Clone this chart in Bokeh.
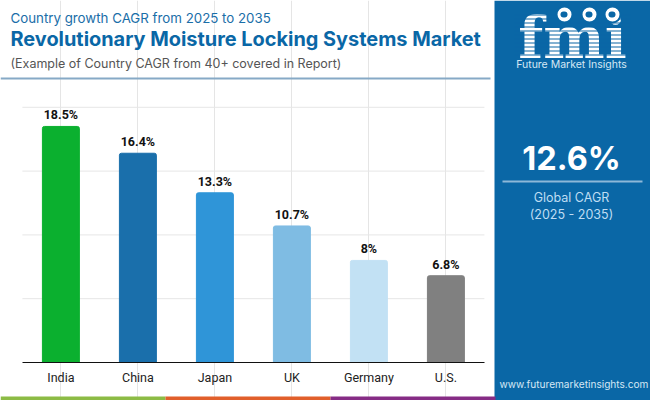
from bokeh.plotting import figure
from bokeh.models import ColumnDataSource, LabelSet, Label, BoxAnnotation, Range1d, FixedTicker, LinearAxis
from bokeh.core.properties import value
from bokeh.embed import file_html
from bokeh.resources import INLINE

countries = ["India", "China", "Japan", "UK", "Germany", "U.S."]
cagr = [18.5, 16.4, 13.3, 10.7, 8.0, 6.8]
value_labels = ["18.5%", "16.4%", "13.3%", "10.7%", "8%", "6.8%"]
bar_colors = ["#0BB02F", "#1A6FAB", "#2F95D8", "#7FBCE3", "#C2E1F4", "#808080"]
y_ticks = [5, 10, 15, 20]

W, H = 650, 400
X0, DX = 60.4, 77.0      # picture x of first category, pixels per category
Y0, DY = 362.0, 12.76    # picture y of zero, pixels per percent
PANEL = "#0A67A6"

positions = list(range(len(countries)))
src = ColumnDataSource(dict(x=positions, v=cagr, l=value_labels, col=bar_colors))
p = figure(x_range=Range1d(-X0 / DX, (W - X0) / DX), y_range=Range1d(-(H - Y0) / DY, Y0 / DY),
           width=W, height=H, output_backend="svg", toolbar_location=None,
           x_axis_location=None,
           min_border=0, min_border_left=0, min_border_right=0, min_border_top=0, min_border_bottom=0)
p.outline_line_color = None
p.background_fill_color = "white"
p.border_fill_color = "white"
p.yaxis.visible = False
p.ygrid.visible = False
p.segment(x0=-0.5, x1=5.5, y0=y_ticks, y1=y_ticks, line_color="#E6E6E6", line_width=1)

p.vbar(x="x", top="v", bottom=0, width=0.48, color="col", source=src, border_radius=(2, 2, 0, 0))
p.add_layout(LabelSet(x="x", y="v", text="l", source=src, text_align="center", text_baseline="bottom",
                      y_offset=4, text_font=value("Roboto"), text_font_style="bold", text_font_size="12.5px",
                      text_color="#111111"))

ax = LinearAxis(fixed_location=0, bounds=(-0.5, 5.5), ticker=FixedTicker(ticks=positions),
                major_label_overrides={i: c for i, c in zip(positions, countries)})
ax.axis_line_color = "#111111"
ax.axis_line_width = 1.2
ax.major_tick_line_color = None
ax.minor_tick_line_color = None
ax.major_label_text_font = "Roboto"
ax.major_label_text_font_size = "12.5px"
ax.major_label_text_color = "#222222"
ax.major_label_standoff = 1
p.add_layout(ax, "below")


def box(x0, y0, x1, y1, color, radius=0, alpha=1.0):
    p.add_layout(BoxAnnotation(left=x0, right=x1, top=H - y0, bottom=H - y1,
                               left_units="screen", right_units="screen", top_units="screen", bottom_units="screen",
                               fill_color=color, fill_alpha=alpha, line_color=None, border_radius=radius, level="overlay"))


def text(x, y, s, size, color, font="Open Sans", style="normal", align="left"):
    p.add_layout(Label(x=x, y=H - y, x_units="screen", y_units="screen", text=s,
                       text_font_size=f"{size}px", text_color=color, text_font=font, text_font_style=style,
                       text_align=align, text_baseline="middle", level="overlay"))


# right panel
box(494, 0, 650, 400, PANEL)

# header
text(10, 17, "Country growth CAGR from 2025 to 2035", 13.3, "#1A6EA8", "Inter")
text(10, 38, "Revolutionary Moisture Locking Systems Market", 19.9, "#0A67A6", "Inter", "bold")
text(10, 63, "(Example of Country CAGR from 40+ covered in Report)", 12.5, "#555555", "Inter")
box(0, 77, 490, 79, "#86A9C6")

# bottom stripes
box(0, 396, 165, 400, "#8CBB45")
box(165, 396, 330, 400, "#E15F2B")
box(330, 396, 495, 400, "#862C85")

text(571, 158, "12.6%", 32.5, "white", "Inter", "bold", "center")
box(502, 180, 642, 182, "#8DB8D8")
text(571, 197, "Global CAGR", 12.5, "#BFDDF3", "Inter", align="center")
text(571, 214, "(2025 - 2035)", 12.5, "#BFDDF3", "Inter", align="center")
text(573.5, 383, "www.futuremarketinsights.com", 10.1, "#D5E8F5", "Inter", align="center")

# logo
text(572, 37, "fmi", 58, "white", "DejaVu Serif", "bold", "center")
for yy in range(14, 57, 4):
    box(514, yy, 630, yy + 1, PANEL)
for cx, cy in [(564, 14), (589, 14), (612, 14)]:
    box(cx - 9, cy - 9, cx + 9, cy + 9, PANEL, 9)
    box(cx - 7, cy - 7, cx + 7, cy + 7, "white", 7)
    box(cx - 4, cy - 3, cx + 3, cy + 3, PANEL, 3)
text(571, 64, "Future Market Insights", 10.5, "#D5E8F5", "Inter", align="center")

open("out.html", "w").write(file_html(p, INLINE))
